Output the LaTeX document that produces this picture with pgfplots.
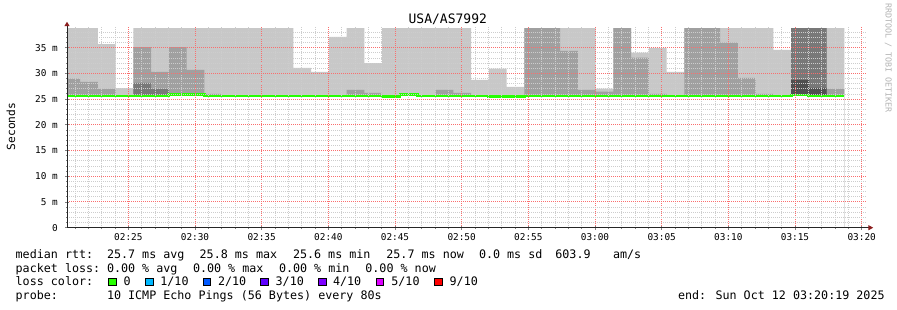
\documentclass[border=0pt]{standalone}
\usepackage{fontspec}
\setmainfont{DejaVu Sans Mono}
\usepackage{pgfplots}
\pgfplotsset{compat=1.18}
\usepackage{pgfplotstable}
\usetikzlibrary{arrows.meta}
\definecolor{smokeA}{RGB}{200,200,200}
\definecolor{smokeB}{RGB}{160,160,160}
\definecolor{smokeC}{RGB}{120,120,120}
\definecolor{smokeD}{RGB}{80,80,80}
\definecolor{medgreen}{RGB}{38,255,0}
\definecolor{mgrid}{RGB}{250,110,110}
\definecolor{sgrid}{RGB}{205,205,205}
\definecolor{arrowred}{RGB}{140,30,30}
\definecolor{wmark}{RGB}{180,180,180}
\definecolor{lc1}{RGB}{0,184,255}
\definecolor{lc2}{RGB}{0,89,255}
\definecolor{lc3}{RGB}{94,0,255}
\definecolor{lc4}{RGB}{126,0,255}
\definecolor{lc5}{RGB}{221,0,255}
\definecolor{lc9}{RGB}{255,0,0}

\pgfplotstableread{
t L M D E med
2.5 38.8 28.97 0 0 25.6
82.5 38.8 28.33 0 0 25.6
162.5 35.66 26.97 0 0 25.6
242.5 27.10 0 0 0 25.6
322.5 38.8 35.08 28.14 0 25.6
402.5 38.8 30.27 26.97 0 25.6
482.5 38.8 35.08 0 0 25.85
562.5 38.8 30.66 0 0 25.85
642.5 38.8 26.0 0 0 25.6
722.5 38.8 0 0 0 25.6
802.5 38.8 0 0 0 25.6
882.5 38.8 0 0 0 25.6
962.5 38.8 0 0 0 25.6
1042.5 31.05 0 0 0 25.6
1122.5 30.27 0 0 0 25.6
1202.5 37.08 0 0 0 25.6
1282.5 38.8 26.77 0 0 25.6
1362.5 31.97 26.19 0 0 25.6
1442.5 38.8 0 0 0 25.45
1522.5 38.8 0 0 0 25.85
1602.5 38.8 0 0 0 25.6
1682.5 38.8 26.77 0 0 25.6
1762.5 38.8 26.19 0 0 25.6
1842.5 28.72 0 0 0 25.6
1922.5 30.92 0 0 0 25.45
2002.5 27.36 0 0 0 25.45
2082.5 38.8 38.8 0 0 25.6
2162.5 38.8 38.8 0 0 25.6
2242.5 38.8 34.36 0 0 25.6
2322.5 38.8 26.77 0 0 25.6
2402.5 27.03 26.44 0 0 25.6
2482.5 38.8 38.8 0 0 25.6
2562.5 34.03 33.05 0 0 25.6
2642.5 34.94 26.0 0 0 25.6
2722.5 30.27 0 0 0 25.6
2802.5 38.8 38.8 0 0 25.6
2882.5 38.8 38.8 0 0 25.6
2962.5 38.8 35.97 0 0 25.6
3042.5 38.8 29.11 0 0 25.6
3122.5 38.8 26.0 0 0 25.6
3202.5 34.55 0 0 0 25.6
3282.5 38.8 38.8 38.8 28.72 25.8
3362.5 38.8 38.8 38.8 27.16 25.6
3442.5 38.8 26.97 0 0 25.6
3522.5 38.8 26.97 0 0 25.6
}\smoke

\newcommand{\lgf}{\fontsize{11.7}{14}\selectfont}
\newcommand{\lbox}[2]{\draw[black, line width=0.8pt, fill=#2] (#1pt,24.4pt) rectangle ++(7.4pt,7.6pt);}

\begin{document}
\begin{tikzpicture}
\fill[white] (0pt,0pt) rectangle (897pt,310pt);
\begin{axis}[
  at={(67pt,82.3pt)}, anchor=south west,
  scale only axis, width=800pt, height=200.7pt,
  xmin=24, xmax=3624, ymin=0, ymax=39,
  axis on top,
  axis x line=bottom, axis y line=left,
  axis line style={black!85, line width=1pt},
  x axis line style={-{Triangle[length=5pt,width=5pt,color=arrowred]}, shorten >=-6.3pt},
  y axis line style={-{Triangle[length=4.5pt,width=5pt,color=arrowred]}, shorten >=-5.3pt},
  xtick={300,600,...,3600},
  xticklabels={02:25,02:30,02:35,02:40,02:45,02:50,02:55,03:00,03:05,03:10,03:15,03:20},
  minor xtick={60,120,180,240,360,420,480,540,660,720,780,840,960,1020,1080,1140,1260,1320,1380,1440,1560,1620,1680,1740,1860,1920,1980,2040,2160,2220,2280,2340,2460,2520,2580,2640,2760,2820,2880,2940,3060,3120,3180,3240,3360,3420,3480,3540},
  ytick={0,5,...,35},
  yticklabels={0\hspace{4.5pt},5 m,10 m,15 m,20 m,25 m,30 m,35 m},
  minor ytick={1,2,3,4,6,7,8,9,11,12,13,14,16,17,18,19,21,22,23,24,26,27,28,29,31,32,33,34,36,37,38},
  xmajorgrids, ymajorgrids, xminorgrids, yminorgrids,
  every axis grid/.style={},
  every major grid/.style={draw=mgrid, color=mgrid, line width=1pt, dash pattern=on 1pt off 1pt},
  every minor grid/.style={draw=sgrid, color=sgrid, line width=0.7pt, dash pattern=on 1pt off 1pt},
  tick align=center,
  major tick length=4pt, minor tick length=2pt,
  major tick style={line width=0.8pt},
  minor tick style={line width=0.8pt},
  ticklabel style={font=\fontsize{9.4}{11}\selectfont, black},
  xticklabel style={anchor=base, inner sep=0pt, yshift=-10.6pt},
  yticklabel style={anchor=east, inner sep=0pt, xshift=-7pt},
]
\addplot[const plot, fill=smokeA, draw=none] table[x=t,y=L]{\smoke} \closedcycle;
\addplot[const plot, fill=smokeB, draw=none] table[x=t,y=M]{\smoke} \closedcycle;
\addplot[const plot, fill=smokeC, draw=none] table[x=t,y=D]{\smoke} \closedcycle;
\addplot[const plot, fill=smokeD, draw=none] table[x=t,y=E]{\smoke} \closedcycle;
\addplot[const plot, fill=white, draw=none] table[x=t,y=med]{\smoke} \closedcycle;
\addplot[const plot, medgreen, line width=2.8pt] table[x=t,y=med]{\smoke};
\end{axis}
% title and labels
\node[anchor=base, inner sep=0pt, font=\fontsize{13}{15}\selectfont] at (447.8pt,286pt) {USA/AS7992};
\node[rotate=90, inner sep=0pt, font=\fontsize{11.2}{13}\selectfont] at (11pt,183.5pt) {Seconds};
\node[rotate=-90, inner sep=0pt, text=wmark, font=\fontsize{8.3}{10}\selectfont] at (888.3pt,252pt) {RRDTOOL / TOBI OETIKER};
% legend lines
\begin{scope}[every node/.style={anchor=base west, inner sep=0pt, font=\lgf}]
\node at (15.5pt,51.6pt) {median rtt:};
\node at (106.8pt,51.6pt) {25.7 ms avg};
\node at (199.5pt,51.6pt) {25.8 ms max};
\node at (292.8pt,51.6pt) {25.6 ms min};
\node at (386.2pt,51.6pt) {25.7 ms now};
\node at (478.8pt,51.6pt) {0.0 ms sd};
\node at (555.2pt,51.6pt) {603.9};
\node at (612.8pt,51.6pt) {am/s};
\node at (15.5pt,37.9pt) {packet loss:};
\node at (106.8pt,37.9pt) {0.00 \% avg};
\node at (192.8pt,37.9pt) {0.00 \% max};
\node at (278.8pt,37.9pt) {0.00 \% min};
\node at (365.2pt,37.9pt) {0.00 \% now};
\node at (15.5pt,24.1pt) {loss color:};
\node at (123.5pt,24.1pt) {0};
\node at (160.2pt,24.1pt) {1/10};
\node at (217.8pt,24.1pt) {2/10};
\node at (275.5pt,24.1pt) {3/10};
\node at (332.8pt,24.1pt) {4/10};
\node at (391.2pt,24.1pt) {5/10};
\node at (449.5pt,24.1pt) {9/10};
\node at (15.5pt,10.6pt) {probe:};
\node at (106.8pt,10.6pt) {10 ICMP Echo Pings (56 Bytes) every 80s};
\node at (677.8pt,10.6pt) {end: Sun Oct 12 03:20:19 2025};
\end{scope}
\lbox{108.6}{medgreen}
\lbox{145.6}{lc1}
\lbox{202.9}{lc2}
\lbox{260.6}{lc3}
\lbox{318.6}{lc4}
\lbox{376.3}{lc5}
\lbox{434.6}{lc9}
\end{tikzpicture}
\end{document}
